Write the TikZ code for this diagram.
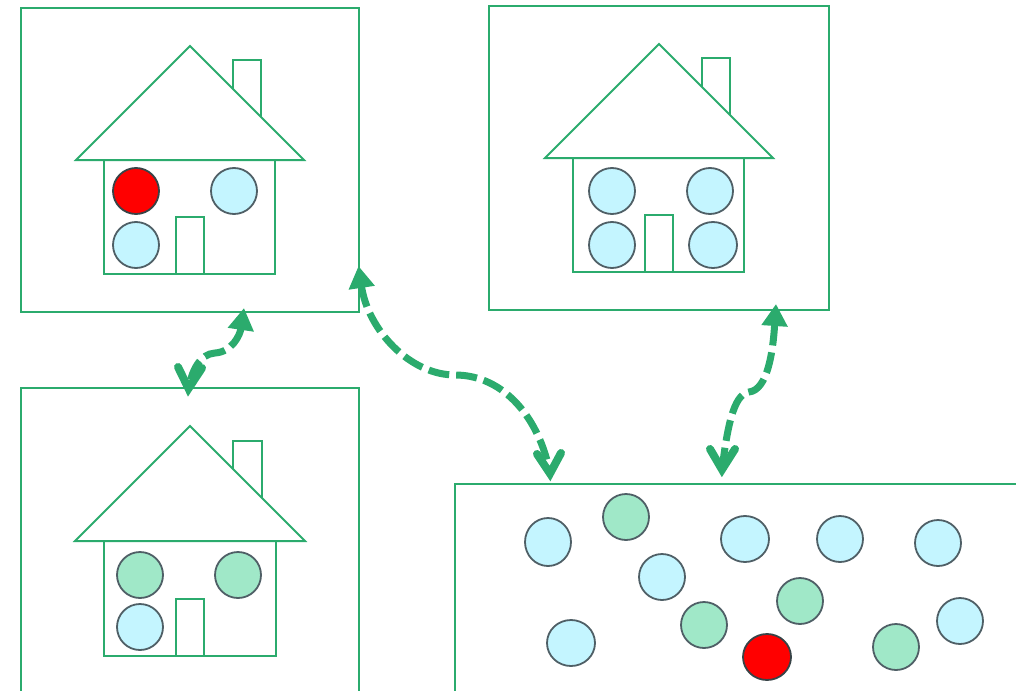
\documentclass[tikz,border=0pt]{standalone}
\usetikzlibrary{arrows.meta,shapes.geometric}
\definecolor{gline}{HTML}{2BAB6D}
\definecolor{cblue}{HTML}{C4F5FF}
\definecolor{cgreen}{HTML}{A0E8C8}
\definecolor{cedge}{HTML}{4F5F66}
\tikzset{
  frame/.style={draw=gline,line width=2pt,fill=none},
  housepart/.style={draw=gline,line width=2pt,line join=miter},
  ball/.style={ellipse,draw=cedge,line width=1.8pt,inner sep=0pt,minimum width=46pt,minimum height=46pt},
  bluedot/.style={ball,fill=cblue},
  greendot/.style={ball,fill=cgreen},
  reddot/.style={ball,fill=red,draw=cedge!70!black},
  link/.style={draw=gline,line width=7pt,dash pattern=on 21pt off 7pt,
    {Triangle[length=22pt,width=25pt]}-},
  barb/.style={draw=gline,line width=8pt,line cap=round,line join=miter,miter limit=10},
}
\begin{document}
\begin{tikzpicture}[x=1pt,y=-1pt]
\useasboundingbox (0,0) rectangle (1016,690);
\clip (0,0) rectangle (1016,690);
% frames
\draw[frame] (21,8) rectangle (359,312);
\draw[frame] (489,6) rectangle (829,310);
\draw[frame] (21,388) rectangle (359,720);
\draw[frame] (455,484) rectangle (1060,720);
% house 1
\draw[housepart] (190,46) -- (76,160) -- (304,160) -- cycle;
\draw[housepart] (104,160) -- (104,274) -- (275,274) -- (275,160);
\draw[housepart] (176,274) -- (176,217) -- (204,217) -- (204,274);
\draw[housepart] (233,89) -- (233,60) -- (261,60) -- (261,117);
% house 2
\draw[housepart] (659,44) -- (545,158) -- (773,158) -- cycle;
\draw[housepart] (573,158) -- (573,272) -- (744,272) -- (744,158);
\draw[housepart] (645,272) -- (645,215) -- (673,215) -- (673,272);
\draw[housepart] (702,87) -- (702,58) -- (730,58) -- (730,115);
% house 3
\draw[housepart] (190,426) -- (75,541) -- (305,541) -- cycle;
\draw[housepart] (104,541) -- (104,656) -- (276,656) -- (276,541);
\draw[housepart] (176,656) -- (176,598.5) -- (204,598.5) -- (204,656);
\draw[housepart] (233,469) -- (233,440.5) -- (261.5,440.5) -- (261.5,497.5);
% balls house 1
\node[reddot] (a1) at (136,191) {};
\node[bluedot] (a2) at (234,191) {};
\node[bluedot] (a3) at (136,245) {};
% balls house 2
\node[bluedot] (b1) at (612,191) {};
\node[bluedot] (b2) at (710,191) {};
\node[bluedot] (b3) at (612,245) {};
\node[bluedot,minimum width=48pt] (b4) at (713,245) {};
% balls house 3
\node[greendot] (c1) at (140,575) {};
\node[greendot] (c2) at (238,575) {};
\node[bluedot] (c3) at (140,627) {};
% balls field
\node[bluedot,minimum height=48pt] (d1) at (548,542) {};
\node[greendot] (d2) at (626,517) {};
\node[bluedot,minimum width=48pt] (d3) at (745,539) {};
\node[bluedot] (d4) at (840,539) {};
\node[bluedot] (d5) at (938,543) {};
\node[bluedot] (d6) at (662,577) {};
\node[greendot] (d7) at (800,601) {};
\node[greendot] (d8) at (704,625) {};
\node[bluedot,minimum width=48pt] (d9) at (571,643) {};
\node[reddot,minimum width=48pt] (d10) at (767,657) {};
\node[greendot] (d11) at (896,647) {};
\node[bluedot] (d12) at (960,621) {};
% connector ends
\coordinate (l1a) at (244,308);
\coordinate (l1b) at (188.5,388.5);
\coordinate (l2a) at (358.5,266);
\coordinate (l2b) at (550,473.5);
\coordinate (l3a) at (776,304);
\coordinate (l3b) at (722,469.5);
% connectors
\draw[link] (l1a) .. controls (240,335) and (232,352) .. (215,353) .. controls (200,354) and (192,370) .. (l1b);
\draw[barb] (178,367) -- (l1b) -- (202,368);
\draw[link] (l2a) .. controls (368,330) and (410,375) .. (455,375) .. controls (505,375) and (540,420) .. (l2b);
\draw[barb] (537,454) -- (l2b) -- (561,453);
\draw[link] (l3a) .. controls (773,350) and (768,390) .. (749,392) .. controls (733,394) and (727,430) .. (l3b);
\draw[barb] (710,449) -- (l3b) -- (735,449);
\end{tikzpicture}
\end{document}
